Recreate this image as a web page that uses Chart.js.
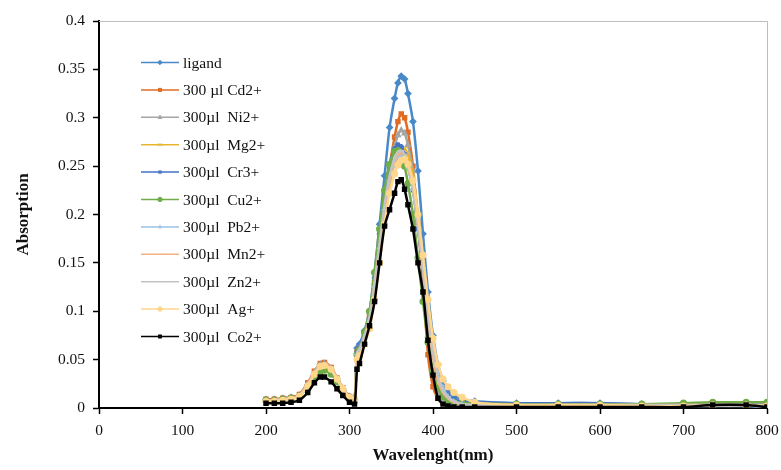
<!DOCTYPE html>
<html>
<head>
<meta charset="utf-8">
<script src="https://cdn.jsdelivr.net/npm/chart.js@4/dist/chart.umd.min.js"></script>
<style>
  html, body { margin: 0; padding: 0; background: #fff; }
  .canvas-container { position: relative; width: 781px; height: 470px; }
</style>
</head>
<body>
<div class="canvas-container">
  <canvas id="chart"></canvas>
</div>
<script>
// wavelengths (nm) shared by every series
const wavelengths = [200, 210, 220, 230, 240, 250, 258, 265, 270, 278, 285, 292, 300, 306, 309,
  312, 318, 324, 330, 336, 342, 348, 354, 358, 362, 366, 370, 376, 382, 388, 394, 400, 406, 412,
  418, 425, 435, 450, 500, 550, 600, 650, 700, 735, 775, 800];

const ligand = [0.009, 0.009, 0.010, 0.011, 0.013, 0.024, 0.036, 0.045, 0.046, 0.040, 0.030, 0.020, 0.012, 0.009, 0.062,
  0.066, 0.080, 0.100, 0.140, 0.190, 0.240, 0.290, 0.320, 0.336, 0.343, 0.340, 0.325, 0.296, 0.245, 0.180, 0.120, 0.075, 0.045, 0.028,
  0.018, 0.012, 0.009, 0.007, 0.005, 0.005, 0.005, 0.004, 0.004, 0.005, 0.005, 0.004];
const cd = [0.009, 0.009, 0.010, 0.011, 0.014, 0.026, 0.038, 0.046, 0.047, 0.042, 0.031, 0.021, 0.012, 0.009, 0.058,
  0.062, 0.076, 0.095, 0.130, 0.172, 0.215, 0.250, 0.280, 0.296, 0.304, 0.300, 0.285, 0.250, 0.190, 0.130, 0.055, 0.022, 0.010, 0.006,
  0.004, 0.004, 0.003, 0.003, 0.003, 0.003, 0.003, 0.003, 0.003, 0.003, 0.003, 0.003];
const ni = [0.008, 0.008, 0.009, 0.010, 0.013, 0.025, 0.037, 0.045, 0.046, 0.041, 0.030, 0.020, 0.011, 0.008, 0.058,
  0.062, 0.076, 0.095, 0.130, 0.172, 0.212, 0.245, 0.270, 0.282, 0.287, 0.284, 0.272, 0.245, 0.195, 0.140, 0.075, 0.035, 0.015, 0.008,
  0.005, 0.004, 0.003, 0.003, 0.003, 0.003, 0.003, 0.003, 0.003, 0.003, 0.003, 0.003];
const mg = [0.008, 0.008, 0.009, 0.010, 0.013, 0.024, 0.036, 0.044, 0.045, 0.040, 0.030, 0.020, 0.011, 0.008, 0.056,
  0.060, 0.072, 0.090, 0.122, 0.160, 0.200, 0.232, 0.253, 0.263, 0.268, 0.268, 0.262, 0.240, 0.200, 0.150, 0.095, 0.055, 0.030, 0.018,
  0.011, 0.007, 0.005, 0.004, 0.003, 0.003, 0.003, 0.003, 0.003, 0.003, 0.004, 0.003];
const cr = [0.008, 0.008, 0.009, 0.010, 0.013, 0.024, 0.036, 0.044, 0.045, 0.040, 0.030, 0.020, 0.011, 0.008, 0.058,
  0.062, 0.078, 0.098, 0.135, 0.180, 0.222, 0.252, 0.268, 0.272, 0.270, 0.262, 0.250, 0.225, 0.185, 0.140, 0.092, 0.055, 0.032, 0.020,
  0.013, 0.009, 0.007, 0.006, 0.005, 0.005, 0.005, 0.004, 0.004, 0.004, 0.004, 0.004];
const cu = [0.008, 0.008, 0.009, 0.010, 0.012, 0.022, 0.032, 0.038, 0.039, 0.035, 0.027, 0.018, 0.010, 0.007, 0.055,
  0.060, 0.078, 0.100, 0.140, 0.185, 0.225, 0.252, 0.265, 0.266, 0.262, 0.250, 0.232, 0.200, 0.155, 0.110, 0.068, 0.038, 0.020, 0.012,
  0.008, 0.006, 0.005, 0.005, 0.004, 0.004, 0.004, 0.004, 0.005, 0.006, 0.006, 0.006];
const pb = [0.007, 0.007, 0.008, 0.009, 0.012, 0.023, 0.035, 0.043, 0.044, 0.039, 0.029, 0.019, 0.010, 0.007, 0.055,
  0.059, 0.072, 0.090, 0.125, 0.165, 0.205, 0.235, 0.253, 0.259, 0.261, 0.258, 0.248, 0.225, 0.188, 0.145, 0.098, 0.060, 0.034, 0.020,
  0.012, 0.007, 0.004, 0.003, 0.002, 0.002, 0.002, 0.002, 0.002, 0.002, 0.002, 0.001];
const mn = [0.008, 0.008, 0.009, 0.010, 0.013, 0.025, 0.037, 0.045, 0.046, 0.041, 0.031, 0.021, 0.011, 0.008, 0.056,
  0.060, 0.073, 0.091, 0.125, 0.165, 0.205, 0.236, 0.255, 0.262, 0.264, 0.261, 0.250, 0.226, 0.188, 0.142, 0.092, 0.053, 0.028, 0.016,
  0.010, 0.006, 0.004, 0.003, 0.003, 0.003, 0.003, 0.003, 0.003, 0.003, 0.003, 0.003];
const zn = [0.008, 0.008, 0.009, 0.010, 0.013, 0.024, 0.036, 0.044, 0.045, 0.040, 0.030, 0.020, 0.011, 0.008, 0.057,
  0.061, 0.075, 0.094, 0.130, 0.170, 0.210, 0.240, 0.258, 0.265, 0.266, 0.262, 0.252, 0.228, 0.190, 0.145, 0.096, 0.058, 0.032, 0.018,
  0.011, 0.007, 0.004, 0.003, 0.003, 0.003, 0.003, 0.003, 0.003, 0.003, 0.003, 0.003];
const ag = [0.007, 0.007, 0.008, 0.009, 0.012, 0.023, 0.035, 0.043, 0.044, 0.040, 0.030, 0.020, 0.011, 0.008, 0.050,
  0.054, 0.066, 0.082, 0.112, 0.150, 0.190, 0.222, 0.242, 0.251, 0.256, 0.257, 0.252, 0.235, 0.200, 0.158, 0.112, 0.072, 0.045, 0.030,
  0.022, 0.016, 0.011, 0.006, 0.003, 0.003, 0.003, 0.002, 0.002, 0.003, 0.003, 0.002];
const co = [0.005, 0.005, 0.005, 0.006, 0.008, 0.016, 0.026, 0.032, 0.032, 0.027, 0.020, 0.013, 0.006, 0.004, 0.040,
  0.046, 0.066, 0.085, 0.110, 0.150, 0.188, 0.205, 0.222, 0.234, 0.236, 0.226, 0.210, 0.185, 0.150, 0.120, 0.070, 0.034, 0.010, 0.004,
  0.002, 0.001, 0.001, 0.001, 0.001, 0.001, 0.001, 0.001, 0.001, 0.003, 0.003, 0.001];

const seriesLabels = ["ligand", "300 \u00b5l Cd2+", "300\u00b5l  Ni2+", "300\u00b5l  Mg2+", "300\u00b5l  Cr3+",
  "300\u00b5l  Cu2+", "300\u00b5l  Pb2+", "300\u00b5l  Mn2+", "300\u00b5l  Zn2+", "300\u00b5l  Ag+", "300\u00b5l  Co2+"];
const seriesValues = [ligand, cd, ni, mg, cr, cu, pb, mn, zn, ag, co];
const yTicks = [0, 0.05, 0.1, 0.15, 0.2, 0.25, 0.3, 0.35, 0.4];
const xTicks = [0, 100, 200, 300, 400, 500, 600, 700, 800];

const colors = ["#4a89c8", "#e06c24", "#a5a5a5", "#e8b530", "#4472c4", "#70ad47",
  "#9dc3e6", "#f4b183", "#c4c4c4", "#ffd68a", "#000000"];
const markers = ["rectRot", "rect", "triangle", "crossRot", "star", "circle",
  "cross", "dash", "dash", "circle", "rect"];
const FONT = "'Liberation Serif', 'Times New Roman', serif";

const datasets = seriesValues.map((vals, i) => ({
  label: seriesLabels[i],
  data: vals.map((v, k) => ({ x: wavelengths[k], y: v })),
  borderColor: colors[i],
  backgroundColor: colors[i],
  pointStyle: markers[i],
  pointRadius: 2.8,
  pointBorderWidth: 1.5,
  borderWidth: 2.5,
  tension: 0.25,
  // later series sit on top, like the original spreadsheet chart
  order: seriesValues.length - i,
}));

// legend drawn inside the plot, top-left
const insideLegend = {
  id: "insideLegend",
  afterDraw(chart) {
    const ctx = chart.ctx;
    ctx.save();
    chart.data.datasets.forEach((ds, i) => {
      const y = 62.5 + 27.4 * i;
      ctx.strokeStyle = ds.borderColor;
      ctx.lineWidth = 1.5;
      ctx.beginPath();
      ctx.moveTo(141, y);
      ctx.lineTo(179, y);
      ctx.stroke();
      ctx.fillStyle = ds.backgroundColor;
      ctx.lineWidth = 1;
      Chart.helpers.drawPoint(ctx, { pointStyle: ds.pointStyle, radius: 2.2, rotation: 0, borderWidth: 1 }, 160, y);
      ctx.fillStyle = "#111";
      ctx.font = "15.5px " + FONT;
      ctx.textAlign = "left";
      ctx.textBaseline = "middle";
      ctx.fillText(ds.label, 183, y + 1);
    });
    ctx.restore();
  },
};

// light grey frame on top and right of the plot
const plotFrame = {
  id: "plotFrame",
  beforeDatasetsDraw(chart) {
    const a = chart.chartArea;
    const ctx = chart.ctx;
    ctx.save();
    ctx.strokeStyle = "#bdbdbd";
    ctx.lineWidth = 1;
    ctx.beginPath();
    ctx.moveTo(a.left, a.top + 0.5);
    ctx.lineTo(a.right + 0.5, a.top + 0.5);
    ctx.lineTo(a.right + 0.5, a.bottom);
    ctx.stroke();
    ctx.restore();
  },
};

new Chart(document.getElementById("chart"), {
  type: "line",
  data: { datasets: datasets },
  options: {
    responsive: true,
    maintainAspectRatio: false,
    animation: false,
    layout: { padding: { left: 13, right: 14, top: 21, bottom: 4 } },
    scales: {
      x: {
        type: "linear",
        min: 0,
        max: 800,
        afterBuildTicks(scale) {
          scale.ticks = xTicks.map((v) => ({ value: v }));
        },
        afterFit(scale) {
          scale.height = 58;
          scale.paddingLeft = 0;
          scale.paddingRight = 0;
        },
        grid: { drawOnChartArea: false, tickLength: 6, color: "#000", tickWidth: 1.5 },
        border: { color: "#000", width: 2 },
        ticks: { color: "#111", font: { family: FONT, size: 15.5 }, padding: 8, maxRotation: 0 },
        title: {
          display: true,
          text: "Wavelenght(nm)",
          color: "#111",
          font: { family: FONT, size: 17, weight: "bold" },
          padding: { top: 6, bottom: 0 },
        },
      },
      y: {
        min: 0,
        max: 0.4,
        afterBuildTicks(scale) {
          scale.ticks = yTicks.map((v) => ({ value: v }));
        },
        afterFit(scale) {
          scale.width = 86;
        },
        grid: { drawOnChartArea: false, tickLength: 6, color: "#000", tickWidth: 1.5 },
        border: { color: "#000", width: 2 },
        ticks: {
          color: "#111",
          font: { family: FONT, size: 15.5 },
          padding: 8,
          callback: (v) => String(parseFloat(v.toFixed(2))),
        },
        title: {
          display: true,
          text: "Absorption",
          color: "#111",
          font: { family: FONT, size: 17, weight: "bold" },
          padding: { top: 0, bottom: 2 },
        },
      },
    },
    plugins: {
      legend: { display: false },
      tooltip: { enabled: false },
    },
  },
  plugins: [plotFrame, insideLegend],
});
</script>
</body>
</html>
